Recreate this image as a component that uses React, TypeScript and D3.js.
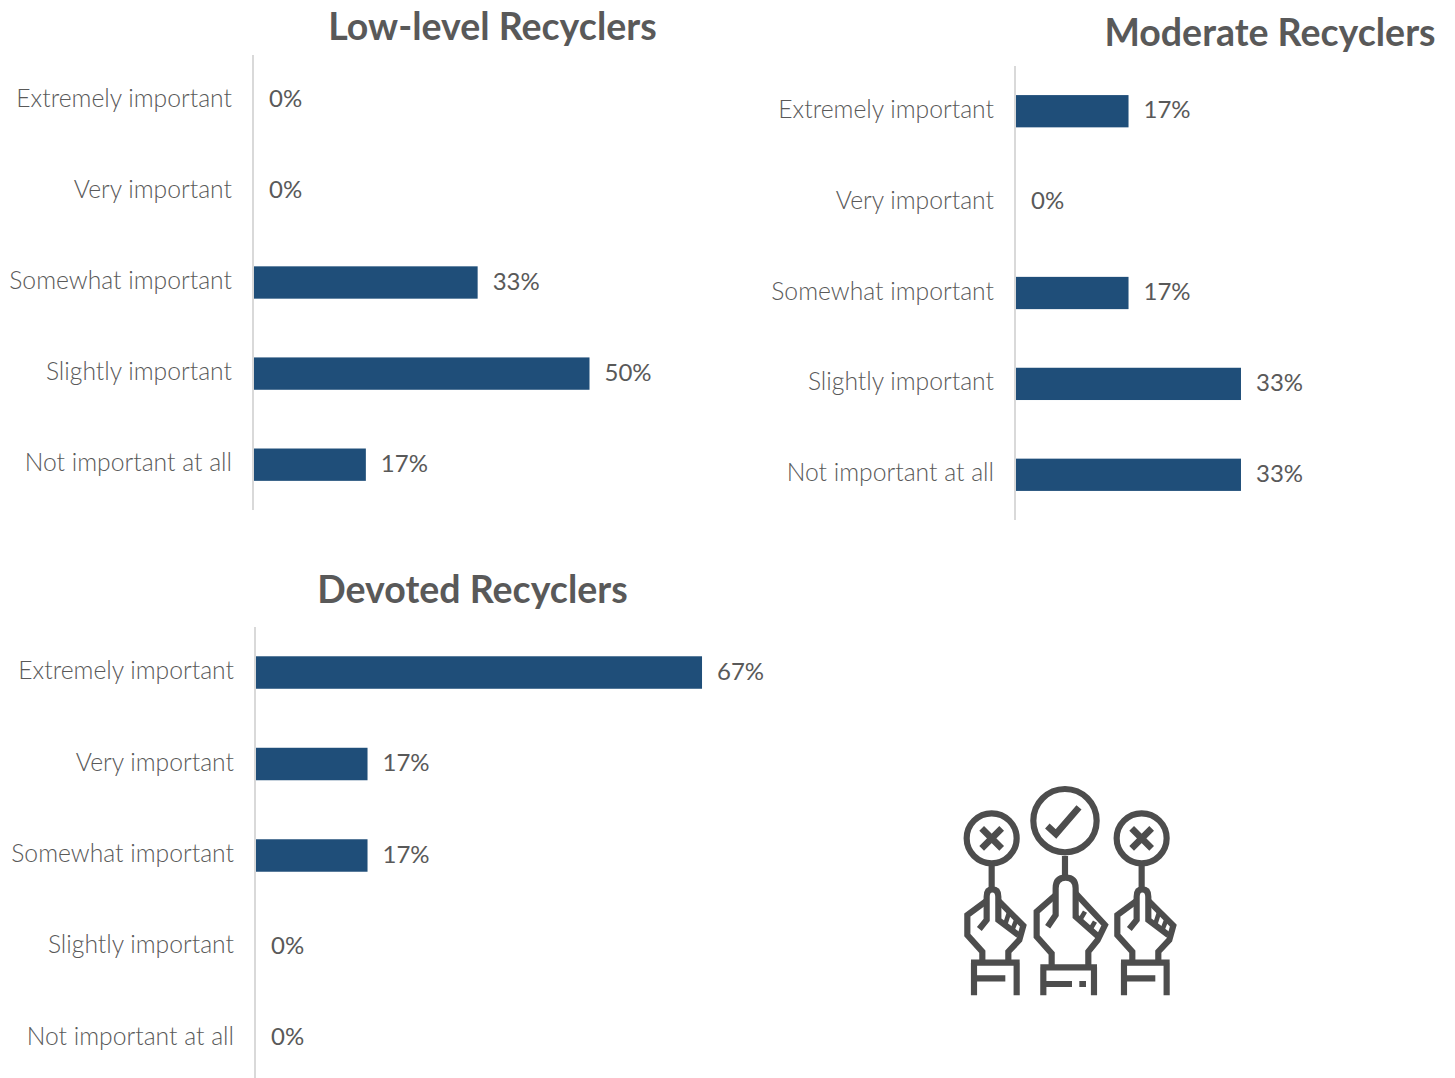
import React from "react";
import * as d3 from "d3";

const categories = ["Extremely important", "Very important", "Somewhat important", "Slightly important", "Not important at all"];
const lowLevelValues = [0, 0, 33.33, 50, 16.67];
const moderateValues = [16.67, 0, 16.67, 33.33, 33.33];
const devotedValues = [66.67, 16.67, 16.67, 0, 0];
const panelTitles = ["Low-level Recyclers", "Moderate Recyclers", "Devoted Recyclers"];

const INK = "#595959";
const BAR = "#1F4E79";
const FONT = "Lato, sans-serif";

function Panel({ title, values, axisX, top, bottom, axisBottom, span, titleX, titleY }: any) {
  const x = d3.scaleLinear().domain([0, 100]).range([axisX + 1, axisX + 1 + span]);
  const y = d3.scaleBand().domain(categories).range([top, bottom]).paddingInner(0.645).paddingOuter(0.32);
  return (
    <g>
      <text x={titleX} y={titleY} textAnchor="middle" fontFamily={FONT} fontWeight={700} fontSize={37.5} fill={INK}>{title}</text>
      <line x1={axisX} x2={axisX} y1={top} y2={axisBottom} stroke="#D9D9D9" strokeWidth={2} />
      {categories.map((c, i) => {
        const cy = (y(c) as number) + y.bandwidth() / 2;
        const v = values[i];
        return (
          <g key={c}>
            <text x={axisX - 21} y={cy + 6.5} textAnchor="end" fontFamily={FONT} fontWeight={300} fontSize={24.7} fill={INK}>{c}</text>
            {v > 0 && <rect x={x(0)} y={y(c)} width={x(v) - x(0)} height={y.bandwidth()} fill={BAR} />}
            <text x={x(v) + 15} y={cy + 7} fontFamily={FONT} fontWeight={400} fontSize={24} fill={INK}>{Math.round(v)}%</text>
          </g>
        );
      })}
    </g>
  );
}

function Hand({ dx }: { dx: number }) {
  return (
    <g transform={`translate(${dx},0)`}>
      <circle cx={125} cy={175} r={75} />
      <path d="M95,145L155,205M155,145L95,205" strokeWidth={20} />
      <path d="M125,258V325" />
      <path d="M88,447L110,420V350Q110,328 127,328Q145,328 145,350V420L205,465" />
      <path d="M110,362L52,405V465L97,515V548" />
      <path d="M145,362L220,437L208,480L175,515V548" />
      <path d="M178,395L165,435M200,417L187,450" strokeWidth={14} />
      <path d="M63,548H209M72,548V646M200,548V646M72,595H166" />
    </g>
  );
}

function Icon() {
  return (
    <g transform="translate(950,780) scale(0.3333)" fill="none" stroke="#4D4D4D" strokeWidth={18.5}>
      <Hand dx={0} />
      <Hand dx={450} />
      <circle cx={345} cy={122} r={95} />
      <path d="M292,138L318,162L387,82" strokeWidth={20} />
      <path d="M345,228V290" />
      <path d="M293,440L317,405V325Q317,293 347,293Q377,293 377,325V410L445,470" />
      <path d="M317,345L260,395V470L305,520V556" />
      <path d="M377,340L465,435L443,480L415,515V556" />
      <path d="M405,395L390,420M435,425L420,450" strokeWidth={14} />
      <path d="M271,562H441M280,562V646M432,562V646M280,612H366M388,612H408" />
    </g>
  );
}

export default function App() {
  return (
    <svg width={1455} height={1078} style={{ position: "absolute", left: 0, top: 0, background: "#fff" }}>
      <Panel title={panelTitles[0]} values={lowLevelValues} axisX={253} top={55} bottom={510} axisBottom={510} span={671} titleX={492.5} titleY={40} />
      <Panel title={panelTitles[1]} values={moderateValues} axisX={1015} top={66} bottom={520} axisBottom={520} span={675} titleX={1270} titleY={46} />
      <Panel title={panelTitles[2]} values={devotedValues} axisX={255} top={627} bottom={1084} axisBottom={1078} span={669} titleX={472.5} titleY={603} />
      <Icon />
    </svg>
  );
}
